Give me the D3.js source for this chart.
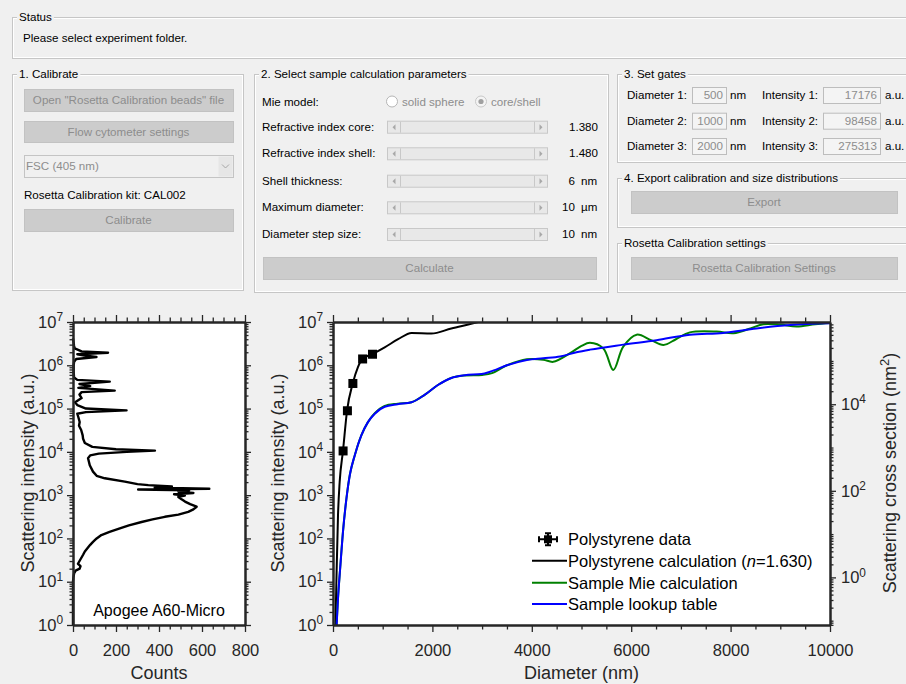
<!DOCTYPE html>
<html>
<head>
<meta charset="utf-8">
<script src="https://cdn.jsdelivr.net/npm/d3@7"></script>
<style>
body { margin: 0; background: #f0f0f0; }
svg { display: block; font-family: "Liberation Sans", Arial, sans-serif; }
</style>
</head>
<body>
<svg id="svg" width="906" height="684"></svg>
<script>
d3.selection.prototype.attrs = function(o) { for (var k in o) this.attr(k, o[k]); return this; };
var svg = d3.select("#svg");

// ---- GUI texts ----
var paramLabels = ["Refractive index core:", "Refractive index shell:", "Shell thickness:", "Maximum diameter:", "Diameter step size:"],
    paramValues = ["1.380", "1.480", "6", "10", "10"],
    paramUnits  = ["", "", "nm", "\u00b5m", "nm"];
var gateDiam = ["500", "1000", "2000"],
    gateInt  = ["17176", "98458", "275313"];

// ---- chart data ----
// polystyrene beads (diameter nm, intensity a.u.)
var beadDiam = [203, 290, 400, 596, 795],
    beadInt  = [1.05e4, 8.9e4, 3.8e5, 1.4e6, 1.8e6];
// polystyrene calculation (n=1.630)
var psDiam = [40, 68, 101, 134, 201, 282, 397, 500, 591, 785, 1040, 1310, 1580, 1980, 2380, 2780, 3000],
    psInt  = [0.3, 10, 350, 2000, 1.05e4, 8.9e4, 3.8e5, 9e5, 1.4e6, 1.8e6, 2.6e6, 4e6, 5.6e6, 5.4e6, 7.1e6, 9.1e6, 1.05e7];
// sample Mie calculation
var mieDiam = [60, 100, 150, 200, 270, 340, 440, 570, 700, 840, 1040, 1300, 1580, 1850, 2110, 2380, 2650, 3000, 3200, 3500, 3900, 4230, 4430, 4770, 5000, 5170, 5440, 5640, 5840, 6110, 6400, 6650, 6900, 7180, 7720, 8060, 8400, 8660, 9000, 9330, 9700, 10000],
    mieInt  = [0.5, 4, 25, 140, 830, 3000, 8500, 2.4e4, 4.8e4, 7.8e4, 1.15e5, 1.3e5, 1.4e5, 2.1e5, 3.5e5, 5.1e5, 5.8e5, 6.0e5, 6.6e5, 1.0e6, 1.38e6, 1.35e6, 1.2e6, 1.9e6, 2.8e6, 3.3e6, 2.45e6, 7.8e5, 2.7e6, 5.1e6, 3.8e6, 2.95e6, 4.0e6, 5.75e6, 6.0e6, 5.5e6, 7.1e6, 8.9e6, 8.7e6, 7.9e6, 8.9e6, 9.5e6];
// sample lookup table
var lutDiam = [60, 100, 150, 200, 270, 340, 440, 570, 700, 840, 1040, 1300, 1580, 1850, 2110, 2380, 2650, 2990, 3160, 3500, 3900, 4230, 4570, 4900, 5170, 5840, 6510, 7180, 7850, 8520, 9200, 10000],
    lutInt  = [0.5, 4, 25, 140, 830, 3000, 8500, 2.4e4, 4.8e4, 7.6e4, 1.1e5, 1.26e5, 1.4e5, 2.1e5, 3.5e5, 5.1e5, 5.9e5, 6.3e5, 7.1e5, 1.0e6, 1.32e6, 1.45e6, 1.6e6, 2.0e6, 2.3e6, 3.0e6, 3.8e6, 5.1e6, 5.6e6, 7.1e6, 8.5e6, 9.3e6];
// Apogee A60-Micro histogram (intensity, counts)
var histInt = [4.2e6, 2.8e6, 2.45e6, 2.1e6, 1.95e6, 1.8e6, 1.66e6, 1.55e6, 1.4e6, 1.2e6, 1e6, 7.1e5, 5.2e5, 4.6e5, 4.2e5, 3.7e5, 3.3e5, 3e5, 2.6e5, 2.4e5, 2.1e5, 1.75e5, 1.4e5, 1.2e5, 1e5, 9.1e4, 8.3e4, 7.6e4, 6.3e4, 4.9e4, 4e4, 3.2e4, 2.4e4, 2e4, 1.6e4, 1.3e4, 1.15e4, 1.07e4, 1e4, 9.1e3, 8.3e3, 7.1e3, 4.9e3, 3.5e3, 2.8e3, 2.45e3, 2.05e3, 1.8e3, 1.7e3, 1.58e3, 1.48e3, 1.41e3, 1.35e3, 1.29e3, 1.2e3, 1.12e3, 1.05e3, 980, 910, 800, 710, 620, 540, 470, 410, 355, 316, 275, 240, 200, 170, 141, 120, 100, 83, 71, 59, 50, 42, 33, 26, 23, 20, 18, 15.5, 12.6, 10, 3.2, 1],
    histCount = [0, 5, 8, 40, 163, 20, 60, 109, 15, 5, 3, 3, 5, 20, 171, 30, 80, 25, 194, 40, 30, 40, 10, 20, 60, 249, 60, 20, 25, 31, 28, 38, 45, 47, 55, 90, 200, 381, 250, 120, 80, 70, 78, 93, 110, 148, 241, 300, 350, 460, 380, 634, 303, 540, 490, 560, 470, 520, 490, 505, 521, 545, 575, 560, 536, 490, 427, 370, 319, 260, 218, 170, 132, 110, 93, 80, 67, 55, 47, 35, 23, 35, 31, 12, 5, 2, 0, 0, 0];

var legendNames = ["Polystyrene data", "Polystyrene calculation", "Sample Mie calculation", "Sample lookup table"],
    legendColors = ["#000", "#000", "#008000", "#0000ff"];

// ================= GUI =================
var dim = "#8d8d8d";
var gui = svg.append("g").attr("font-size", 11.6);

function panel(x, y, w, h, title) {
    gui.append("rect").attrs({x:x+.5, y:y+.5, width:w, height:h, fill:"none", stroke:"#c6c6c6"});
    gui.append("rect").attrs({x:x+1.5, y:y+1.5, width:w-2, height:h-2, fill:"none", stroke:"#ffffff"});
    var t = gui.append("text").attrs({x:x+7, y:y+4, fill:"#000"}).text(title);
    var tw = t.node().getComputedTextLength();
    gui.insert("rect", function() { return t.node(); }).attrs({x:x+5, y:y-5, width:tw+4, height:11, fill:"#f0f0f0"});
}
function button(x, y, w, h, label) {
    gui.append("rect").attrs({x:x+.5, y:y+.5, width:w, height:h, fill:"#cccccc", stroke:"#c2c2c2"});
    gui.append("text").attrs({x:x+w/2, y:y+h/2+4, "text-anchor":"middle", fill:dim}).text(label);
}
function label(x, y, s, col, anchor) {
    return gui.append("text").attrs({x:x, y:y+4, fill:col||"#000", "text-anchor":anchor||"start"}).text(s);
}

panel(12, 17, 910, 41, "Status");
label(23, 38, "Please select experiment folder.");

panel(12, 74, 231, 216, "1. Calibrate");
button(24, 89, 209, 22, "Open \"Rosetta Calibration beads\" file");
button(24, 121, 209, 21, "Flow cytometer settings");
gui.append("rect").attrs({x:24.5, y:155.5, width:209, height:22, fill:"#f0f0f0", stroke:"#c4c4c4"});
gui.append("rect").attrs({x:218.5, y:156.5, width:14, height:20, fill:"#e6e6e6"});
gui.append("path").attrs({d:"M222,164.5L225.5,168L229,164.5", fill:"none", stroke:"#a6a6a6"});
label(26, 166, "FSC (405 nm)", dim);
label(24, 195, "Rosetta Calibration kit: CAL002");
button(24, 209, 209, 22, "Calibrate");

panel(254, 74, 354, 218, "2. Select sample calculation parameters");
label(262, 102, "Mie model:");
gui.append("circle").attrs({cx:392, cy:101.5, r:5.5, fill:"#fff", stroke:"#b5b5b5"});
label(402, 101.5, "solid sphere", dim);
gui.append("circle").attrs({cx:481, cy:101.5, r:5.5, fill:"#f4f4f4", stroke:"#c8c8c8"});
gui.append("circle").attrs({cx:481, cy:101.5, r:2.6, fill:"#a0a0a0"});
label(491, 101.5, "core/shell", dim);

var rowY = [126.7, 153.3, 180.7, 207.3, 234];
var rows = gui.selectAll(null).data(paramLabels).enter().append("g")
    .attr("transform", function(d, i) { return "translate(0," + rowY[i] + ")"; });
rows.append("text").attrs({x:262, y:4}).text(function(d) { return d; });
rows.append("rect").attrs({x:387.5, y:-5.5, width:160, height:12, fill:"#e8e8e8", stroke:"#c8c8c8"});
rows.append("line").attrs({x1:400.5, x2:400.5, y1:-5, y2:6, stroke:"#c8c8c8"});
rows.append("line").attrs({x1:534.5, x2:534.5, y1:-5, y2:6, stroke:"#c8c8c8"});
rows.append("path").attrs({d:"M395.5,-2.5L392.5,0.5L395.5,3.5Z", fill:"#a8a8a8"});
rows.append("path").attrs({d:"M539.5,-2.5L542.5,0.5L539.5,3.5Z", fill:"#a8a8a8"});
rows.append("text").attrs({x:function(d, i) { return paramUnits[i] ? 575 : 598; }, y:4, "text-anchor":"end"})
    .text(function(d, i) { return paramValues[i]; });
rows.append("text").attrs({x:581, y:4}).text(function(d, i) { return paramUnits[i]; });
button(263, 257, 333, 22, "Calculate");

panel(617, 74, 300, 88, "3. Set gates");
var gy = [95, 120.7, 146];
gateDiam.forEach(function(v, i) {
    label(627, gy[i], "Diameter " + (i+1) + ":");
    gui.append("rect").attrs({x:692.5, y:gy[i]-7.5, width:34, height:16, fill:"#f4f4f4", stroke:"#bdbdbd"});
    label(723, gy[i], v, dim, "end");
    label(730, gy[i], "nm");
    label(762, gy[i], "Intensity " + (i+1) + ":");
    gui.append("rect").attrs({x:823.5, y:gy[i]-7.5, width:57, height:16, fill:"#f4f4f4", stroke:"#bdbdbd"});
    label(877, gy[i], gateInt[i], dim, "end");
    label(885, gy[i], "a.u.");
});
panel(617, 178, 300, 49, "4. Export calibration and size distributions");
button(631, 191, 266, 22, "Export");
panel(617, 243, 300, 49, "Rosetta Calibration settings");
button(631, 257, 266, 22, "Rosetta Calibration Settings");

// ================= charts =================
var axc = "#262626", fs = 16.5;
function isDecade(d) { var l = Math.log10(d); return Math.abs(l - Math.round(l)) < 1e-9; }
function pow10(sel) {
    sel.each(function(d) {
        var t = d3.select(this).text(null);
        t.append("tspan").text("10");
        t.append("tspan").attrs({dy:"-0.55em", "font-size":"0.72em"}).text(Math.round(Math.log10(d)));
    });
}
function styleAxis(g) {
    g.attrs({"font-size":fs, "font-family":"'Liberation Sans', Arial, sans-serif"});
    g.select(".domain").attrs({stroke:axc, "stroke-width":2});
    g.selectAll(".tick line").attrs({stroke:axc, "stroke-width":1.3});
    g.selectAll(".tick text").attr("fill", axc);
}
function addAxis(axis, tx, ty) {
    return svg.append("g").attr("transform", "translate(" + tx + "," + ty + ")").call(axis.tickSizeOuter(0)).call(styleAxis);
}
function logAxes(maker, scale, tx, labels) {
    var tk = scale.ticks(),
        major = tk.filter(labels),
        minor = tk.filter(function(d) { return !labels(d); });
    addAxis(maker(scale).tickValues(minor).tickSize(3.5).tickFormat(""), tx, 0);
    return addAxis(maker(scale).tickValues(major).tickSize(6), tx, 0);
}
function linAxes(maker, scale, ty, step, minorStep, withText) {
    var dom = scale.domain(),
        major = d3.range(dom[0], dom[1] + 1, step),
        minor = d3.range(dom[0], dom[1] + 1, minorStep).filter(function(d) { return d % step; });
    addAxis(maker(scale).tickValues(minor).tickSize(4.5).tickFormat(""), 0, ty);
    var a = maker(scale).tickValues(major).tickSize(7).tickFormat(withText ? d3.format("d") : "");
    return addAxis(a.tickPadding(12), 0, ty);
}

// ---- histogram chart ----
var xH = d3.scaleLinear([0, 800], [73, 245]),
    yH = d3.scaleLog([1, 1e7], [625, 322]);
svg.append("rect").attrs({x:73, y:322, width:172, height:303, fill:"#fff"});
svg.append("path").datum(d3.zip(histInt, histCount))
    .attrs({fill:"none", stroke:"#000", "stroke-width":2.4, "stroke-linejoin":"round",
            d:d3.line().x(function(d) { return xH(d[1]); }).y(function(d) { return yH(d[0]); })});
svg.append("text").attrs({x:159, y:616, "text-anchor":"middle", "font-size":16, fill:"#000"}).text("Apogee A60-Micro");
linAxes(d3.axisTop, xH, 322, 200, 50, false);
linAxes(d3.axisBottom, xH, 625, 200, 50, true);
logAxes(d3.axisLeft, yH, 73, isDecade).selectAll(".tick text").attr("dx", -1).call(pow10);
logAxes(d3.axisRight, yH, 245, isDecade).selectAll(".tick text").remove();
svg.append("text").attrs({x:159, y:679, "text-anchor":"middle", "font-size":18, fill:axc}).text("Counts");
svg.append("text").attrs({transform:"translate(34,473)rotate(-90)", "text-anchor":"middle", "font-size":18, fill:axc})
    .text("Scattering intensity (a.u.)");

// ---- calibration chart ----
var xM = d3.scaleLinear([0, 10000], [333, 830]),
    yM = d3.scaleLog([1, 1e7], [625, 322]),
    yR = d3.scaleLog([Math.pow(10, -1.1), Math.pow(10, 5.9)], [625, 322]);
svg.append("rect").attrs({x:333, y:322, width:497, height:303, fill:"#fff"});
svg.append("clipPath").attr("id", "mclip").append("rect").attrs({x:333, y:322, width:497, height:303});
var plot = svg.append("g").attr("clip-path", "url(#mclip)");
var line = d3.line().curve(d3.curveMonotoneX).x(function(d) { return xM(d[0]); }).y(function(d) { return yM(d[1]); });
plot.append("path").datum(d3.zip(psDiam, psInt)).attrs({d:line, fill:"none", stroke:"#000", "stroke-width":2});
plot.append("path").datum(d3.zip(mieDiam, mieInt)).attrs({d:line.curve(d3.curveCatmullRom), fill:"none", stroke:"#008000", "stroke-width":2});
plot.append("path").datum(d3.zip(lutDiam, lutInt)).attrs({d:line.curve(d3.curveMonotoneX), fill:"none", stroke:"#0000ff", "stroke-width":2});
plot.selectAll(null).data(d3.zip(beadDiam, beadInt)).enter().append("rect")
    .attrs({x:function(d) { return xM(d[0]) - 4.5; }, y:function(d) { return yM(d[1]) - 4.5; }, width:9, height:9, fill:"#000"});

// legend
var lg = svg.append("g").attr("font-size", fs);
var ly = [539.3, 560.7, 582.7, 604];
lg.selectAll(null).data(legendNames).enter().append("text")
    .attrs({x:568, y:function(d, i) { return ly[i] + 5.8; }, fill:"#000"})
    .each(function(d, i) {
        var t = d3.select(this).text(d);
        if (i === 1) {
            t.append("tspan").text(" (");
            t.append("tspan").attr("font-style", "italic").text("n");
            t.append("tspan").text("=1.630)");
        }
    });
lg.selectAll(null).data(legendColors.slice(1)).enter().append("line")
    .attrs({x1:532, x2:567, y1:function(d, i) { return ly[i+1]; }, y2:function(d, i) { return ly[i+1]; }, stroke:function(d) { return d; }, "stroke-width":2});
var mk = lg.append("g").attr("transform", "translate(548," + ly[0] + ")").attrs({stroke:"#000", "stroke-width":2});
mk.append("path").attr("d", "M-9,0H9M-9,-3V3M9,-3V3M0,-6V6M-3,-6H3M-3,6H3");
mk.append("rect").attrs({x:-4, y:-4, width:8, height:8, fill:"#000", stroke:"none"});

linAxes(d3.axisTop, xM, 322, 2000, 500, false);
linAxes(d3.axisBottom, xM, 625, 2000, 500, true);
logAxes(d3.axisLeft, yM, 333, isDecade).selectAll(".tick text").attr("dx", -1).call(pow10);
logAxes(d3.axisRight, yR, 830, function(d) { return [1, 100, 1e4].indexOf(d) >= 0; })
    .call(function(g) { g.selectAll(".tick text").attr("dx", 2).call(pow10); });

svg.append("text").attrs({x:581.5, y:679, "text-anchor":"middle", "font-size":18, fill:axc}).text("Diameter (nm)");
svg.append("text").attrs({transform:"translate(284,473)rotate(-90)", "text-anchor":"middle", "font-size":18, fill:axc})
    .text("Scattering intensity (a.u.)");
var rl = svg.append("text").attrs({transform:"translate(896,473)rotate(-90)", "text-anchor":"middle", "font-size":18, fill:axc});
rl.append("tspan").text("Scattering cross section (nm");
rl.append("tspan").attrs({dy:"-0.55em", "font-size":"0.72em"}).text("2");
rl.append("tspan").attr("dy", "0.4em").text(")");
</script>
</body>
</html>
